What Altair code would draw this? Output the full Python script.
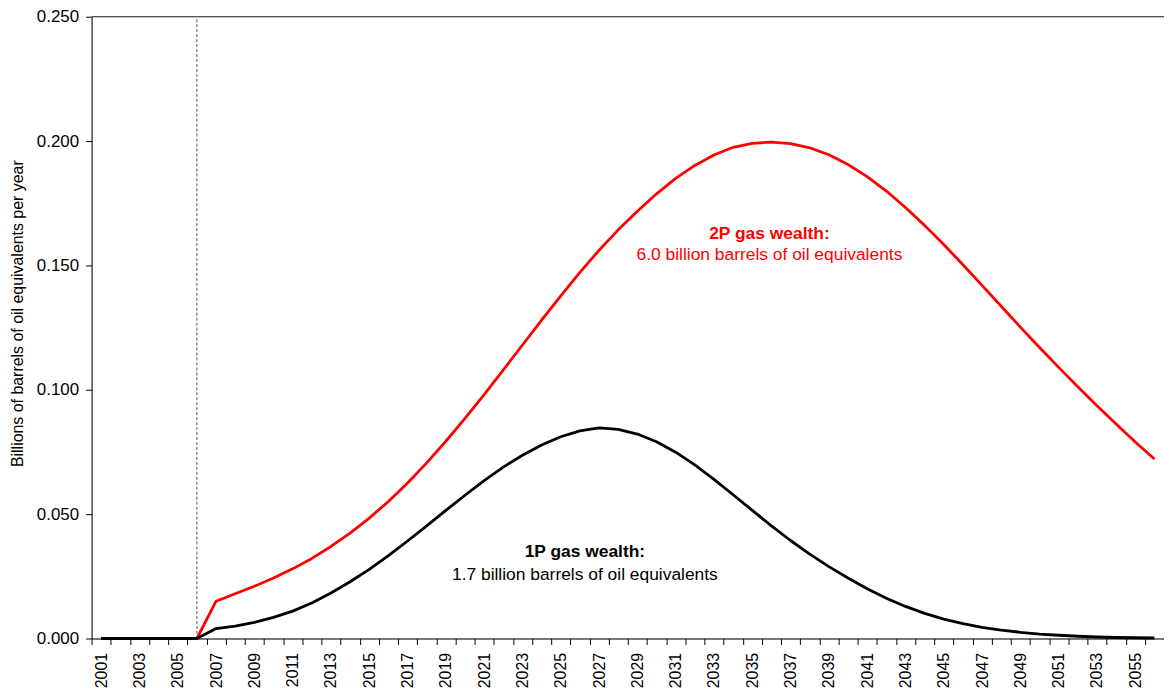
import altair as alt
import pandas as pd

years = [str(y) for y in range(2001, 2057)]

gas_2p = [0, 0, 0, 0, 0, 0,
          0.0150, 0.0180, 0.0210, 0.0243, 0.0280, 0.0322, 0.0370, 0.0424, 0.0484, 0.0551,
          0.0625, 0.0706, 0.0793, 0.0885, 0.0981, 0.1080, 0.1180, 0.1280, 0.1378, 0.1472,
          0.1561, 0.1643, 0.1718, 0.1788, 0.1850, 0.1902, 0.1944, 0.1975, 0.1991, 0.1996,
          0.1990, 0.1973, 0.1945, 0.1906, 0.1857, 0.1799, 0.1733, 0.1661, 0.1584, 0.1503,
          0.1420, 0.1336, 0.1252, 0.1170, 0.1090, 0.1012, 0.0936, 0.0862, 0.0790, 0.0722]

gas_1p = [0, 0, 0, 0, 0, 0,
          0.0040, 0.0050, 0.0065, 0.0085, 0.0110, 0.0143, 0.0183, 0.0228, 0.0278, 0.0333,
          0.0392, 0.0453, 0.0515, 0.0576, 0.0635, 0.0689, 0.0737, 0.0778, 0.0811, 0.0835,
          0.0847, 0.0841, 0.0822, 0.0791, 0.0749, 0.0698, 0.0640, 0.0578, 0.0515, 0.0453,
          0.0394, 0.0339, 0.0289, 0.0243, 0.0200, 0.0162, 0.0129, 0.0101, 0.0078, 0.0060,
          0.0045, 0.0034, 0.0025, 0.0018, 0.0013, 0.0009, 0.0006, 0.0004, 0.0003, 0.0002]

series_names = ["2P gas wealth", "1P gas wealth"]
series_colors = ["#ff0000", "#000000"]

rows = []
for y, a, b in zip(years, gas_2p, gas_1p):
    rows.append({"year": y, "value": a, "series": series_names[0]})
    rows.append({"year": y, "value": b, "series": series_names[1]})
df = pd.DataFrame(rows)

FONT = "Liberation Sans"
W, H = 1078, 625

xscale = alt.Scale(type="band", paddingInner=0, paddingOuter=0, domain=years)
yscale = alt.Scale(domain=[0, 0.25], nice=False)

label_expr = "(toNumber(datum.value) - 2001) % 2 == 0 ? datum.label : ''"

base_x = alt.X("year:O", scale=xscale, bandPosition=0.5, sort=years,
               axis=alt.Axis(title=None, labelAngle=-90, labelExpr=label_expr,
                             labelOverlap=False, tickBand="extent",
                             domainColor="#000000", tickColor="#000000",
                             tickSize=6, labelFontSize=16, labelFont=FONT,
                             labelColor="#000000", labelPadding=8, grid=False))

lines = alt.Chart(df).mark_line(strokeWidth=2.8, strokeJoin="round").encode(
    x=base_x,
    y=alt.Y("value:Q", scale=yscale,
            axis=alt.Axis(title="Billions of barrels of oil equivalents per year",
                          format=".3f", values=[0, 0.05, 0.1, 0.15, 0.2, 0.25],
                          grid=False, domainColor="#000000", tickColor="#000000",
                          tickSize=6, labelFontSize=17, labelFont=FONT,
                          labelColor="#000000", labelPadding=7,
                          titleFont=FONT, titleFontSize=16, titleFontWeight="normal",
                          titleColor="#000000", titleAngle=-90, titleX=-74, titleY=298,
                          titleAlign="center", titleBaseline="middle")),
    color=alt.Color("series:N", scale=alt.Scale(domain=series_names, range=series_colors),
                    legend=None),
    detail="series:N",
)

rule_df = pd.DataFrame({"year": ["2006"], "top": [0.249], "bottom": [0.0]})
vrule = alt.Chart(rule_df).mark_rule(color="#555555", strokeWidth=1, strokeDash=[3, 2]).encode(
    x=alt.X("year:O", scale=xscale, bandPosition=0.5, sort=years),
    y=alt.Y("top:Q", scale=yscale),
    y2="bottom:Q",
)

top_df = pd.DataFrame({"v": [0.25]})
top_rule = alt.Chart(top_df).mark_rule(color="#555555", strokeWidth=1.2).encode(
    y=alt.Y("v:Q", scale=yscale),
)

ann_df = pd.DataFrame({
    "year": ["2036", "2036", "2026", "2026"],
    "y": [0.1628, 0.1540, 0.0348, 0.0256],
    "text": ["2P gas wealth:", "6.0 billion barrels of oil equivalents",
             "1P gas wealth:", "1.7 billion barrels of oil equivalents"],
    "weight": ["bold", "normal", "bold", "normal"],
    "color": ["#ff0000", "#ff0000", "#000000", "#000000"],
    "dx": [-2, -2, 5, 5],
})

def ann(i):
    r = ann_df.iloc[[i]]
    return alt.Chart(r).mark_text(font=FONT, fontSize=17.5, fontWeight=r["weight"].iloc[0],
                                  color=r["color"].iloc[0], align="center",
                                  baseline="middle", dx=int(r["dx"].iloc[0])).encode(
        x=alt.X("year:O", scale=xscale, bandPosition=0.5, sort=years),
        y=alt.Y("y:Q", scale=yscale),
        text="text:N",
    )

chart = alt.layer(top_rule, vrule, lines, ann(0), ann(1), ann(2), ann(3)).properties(
    width=W, height=H,
    autosize=alt.AutoSizeParams(type="none"),
    padding={"left": 84, "top": 7, "right": 0, "bottom": 48},
).configure_view(stroke=None).configure(background="#ffffff")

chart.save("out.html", embed_options={"renderer": "svg", "actions": False})
